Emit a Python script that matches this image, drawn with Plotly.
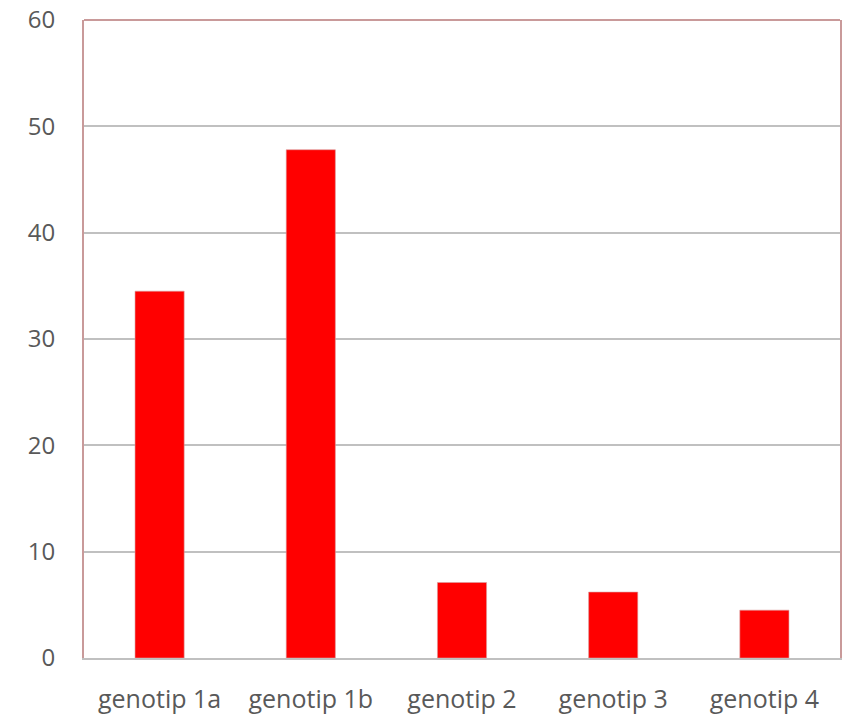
import plotly.graph_objects as go

# Chart data
categories = ["genotip 1a", "genotip 1b", "genotip 2", "genotip 3", "genotip 4"]
values = [34.5, 47.8, 7.1, 6.2, 4.5]
y_ticks = [0, 10, 20, 30, 40, 50, 60]

BORDER = "#c99a9a"
GRID = "#c0c0c0"
TEXT = "#595959"

fig = go.Figure(
    go.Bar(
        x=categories,
        y=values,
        marker=dict(color="#ff0000", line=dict(color="#d8a0a0", width=0.6)),
        hoverinfo="x+y",
    )
)

fig.update_layout(
    width=863,
    height=720,
    margin=dict(l=84, r=23, t=20, b=62),
    paper_bgcolor="white",
    plot_bgcolor="white",
    bargap=0.675,
    showlegend=False,
    font=dict(family="Open Sans", color=TEXT),
)

fig.update_xaxes(
    automargin=False,
    showline=True,
    linecolor=GRID,
    linewidth=2,
    showgrid=False,
    ticks="",
    tickfont=dict(size=25, color=TEXT),
    ticklabelstandoff=18,
    ticklabeloverflow="allow",
)

fig.update_yaxes(
    automargin=False,
    range=[0, 60],
    tickvals=y_ticks,
    showgrid=True,
    gridcolor=GRID,
    gridwidth=1.5,
    zeroline=False,
    showline=True,
    mirror=True,
    linecolor=BORDER,
    linewidth=2,
    ticks="",
    tickfont=dict(size=24, color=TEXT),
    ticklabelstandoff=22,
    ticklabeloverflow="allow",
)

# Top edge of the plot frame
fig.add_shape(
    type="line", xref="paper", yref="paper",
    x0=0, x1=1, y0=1, y1=1,
    line=dict(color=BORDER, width=2),
)

fig.write_html("out.html")
